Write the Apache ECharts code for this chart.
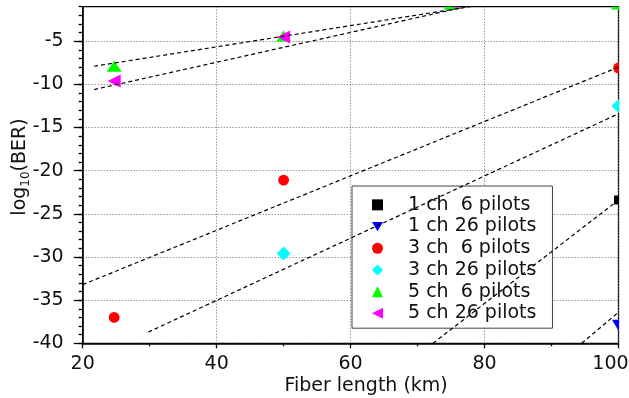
<!DOCTYPE html>
<html>
<head>
<meta charset="utf-8">
<script src="https://cdn.jsdelivr.net/npm/echarts@6/dist/echarts.min.js"></script>
<style>
  html, body { margin: 0; padding: 0; background: #fff; }
  #chart { width: 629px; height: 398px; }
</style>
</head>
<body>
<div id="chart"></div>
<script>
// Series labels (double space keeps the pilot counts aligned)
const seriesNames = ['1 ch  6 pilots', '1 ch 26 pilots', '3 ch  6 pilots',
                     '3 ch 26 pilots', '5 ch  6 pilots', '5 ch 26 pilots'];

// Measured log10(BER) versus fiber length [km, log10(BER)]
const ber1ch6  = [[100, -23.4]];
const ber1ch26 = [[100, -37.9]];
const ber3ch6  = [[24.7, -37.0], [50, -21.1], [100, -8.1]];
const ber3ch26 = [[50, -29.6], [100, -12.5]];
const ber5ch6  = [[24.7, -7.9], [50, -4.4], [75, -0.7], [100, -0.7]];
const ber5ch26 = [[24.7, -9.6], [50, -4.5], [75, -0.5], [100, -0.5]];

// Linear fit end points [km, log10(BER)]
const fit1ch6  = [[72.3, -40], [100, -23.4]];
const fit1ch26 = [[94.5, -40], [100, -36.4]];
const fit3ch6  = [[20, -33.2], [100, -8.0]];
const fit3ch26 = [[29.8, -38.7], [100, -13.4]];
const fit5ch6  = [[21.7, -7.9], [80, -0.73]];
const fit5ch26 = [[21.7, -10.6], [80, -0.52]];

// Axis ticks
const xTicks = [20, 40, 60, 80, 100];
const yTicks = [-40, -35, -30, -25, -20, -15, -10, -5];

const FONT = 'DejaVu Sans';
const TEXT = '#111';

// Marker shapes drawn around a pixel centre
const markerDraw = {
  square:  (x, y) => ({ type: 'rect', shape: { x: x - 4.5, y: y - 4.5, width: 9, height: 9 } }),
  down:    (x, y) => ({ type: 'polygon', shape: { points: [[x - 6.5, y - 5.5], [x + 6.5, y - 5.5], [x, y + 5.5]] } }),
  circle:  (x, y) => ({ type: 'circle', shape: { cx: x, cy: y, r: 5.4 } }),
  diamond: (x, y) => ({ type: 'polygon', shape: { points: [[x, y - 7], [x + 7, y], [x, y + 7], [x - 7, y]] } }),
  up:      (x, y) => ({ type: 'polygon', shape: { points: [[x - 7.5, y + 5.5], [x + 7.5, y + 5.5], [x, y - 5.5]] } }),
  left:    (x, y) => ({ type: 'polygon', shape: { points: [[x + 6.5, y - 6.5], [x + 6.5, y + 6.5], [x - 6.5, y]] } })
};

const legendIcons = [
  'rect',
  'path://M0,0L12,0L6,10Z',
  'circle',
  'diamond',
  'triangle',
  'path://M11,0L11,11L0,5.5Z'
];

function markerSeries(name, data, color, kind) {
  return {
    type: 'custom',
    name: name,
    data: data,
    clip: true,
    silent: true,
    z: 3,
    itemStyle: { color: color },
    encode: { x: 0, y: 1 },
    renderItem: function (params, api) {
      const p = api.coord([api.value(0), api.value(1)]);
      const el = markerDraw[kind](p[0], p[1]);
      el.style = { fill: color };
      return el;
    }
  };
}

function fitSeries(data) {
  return {
    type: 'line',
    data: data,
    symbol: 'none',
    clip: true,
    silent: true,
    z: 4,
    lineStyle: { color: '#000', width: 1.2, type: [4, 3] }
  };
}

const chart = echarts.init(document.getElementById('chart'), null, { renderer: 'canvas' });

chart.setOption({
  animation: false,
  backgroundColor: '#fff',
  textStyle: { fontFamily: FONT },
  grid: {
    left: 82.7, right: 10.5, top: 6.7, bottom: 54.7,
    outerBoundsMode: 'none',
    containLabel: false,
    show: true, borderColor: '#000', borderWidth: 1.3, backgroundColor: 'transparent'
  },
  xAxis: {
    type: 'value',
    min: 20, max: 100, interval: 20,
    name: 'Fiber length (km)',
    nameLocation: 'middle',
    nameGap: 32,
    nameMoveOverlap: false,
    nameTextStyle: { fontSize: 19, color: TEXT, fontFamily: FONT, lineHeight: 22, padding: [0, 0, 0, 31] },
    axisLine: { show: true, lineStyle: { color: '#000', width: 1.5 } },
    axisTick: { show: true, length: 5, lineStyle: { color: '#000', width: 1.3 } },
    minorTick: { show: true, splitNumber: 2, length: 3, lineStyle: { color: '#000', width: 1.3 } },
    axisLabel: {
      fontSize: 19, color: TEXT, fontFamily: FONT, margin: 11, lineHeight: 20,
      formatter: v => (v === 100 ? '{e|100}' : String(v)),
      rich: { e: { fontSize: 19, fontFamily: FONT, color: TEXT, padding: [0, 16, 0, 0] } }
    },
    splitLine: { show: true, lineStyle: { color: '#666', width: 1, type: [1, 2] } }
  },
  yAxis: [
    {
      type: 'value',
      min: -40, max: -1, interval: 5,
      position: 'left',
      name: 'log{s|10}(BER)',
      nameLocation: 'middle',
      nameGap: 51,
      nameMoveOverlap: false,
      nameTextStyle: {
        fontSize: 19, color: TEXT, fontFamily: FONT, lineHeight: 24, padding: [0, 0, 0, 16],
        rich: { s: { fontSize: 12, fontFamily: FONT, color: TEXT, lineHeight: 12, verticalAlign: 'bottom' } }
      },
      axisLine: { show: true, lineStyle: { color: '#000', width: 1.5 } },
      axisTick: { show: true, length: 9, customValues: yTicks, lineStyle: { color: '#000', width: 1.3 } },
      axisLabel: { fontSize: 19, color: TEXT, fontFamily: FONT, margin: 19, customValues: yTicks },
      splitLine: { show: true, lineStyle: { color: '#666', width: 1, type: [1, 2] } }
    },
    {
      // unit minor ticks
      type: 'value',
      min: -40, max: -1, interval: 1,
      position: 'left',
      axisLine: { show: false },
      axisTick: { show: true, length: 4, lineStyle: { color: '#000', width: 1.3 } },
      axisLabel: { show: false },
      splitLine: { show: false }
    }
  ],
  legend: {
    orient: 'vertical',
    left: 352, top: 186,
    padding: [8, 16, 4, 20],
    itemWidth: 11, itemHeight: 11, itemGap: 0,
    backgroundColor: '#fff',
    borderColor: '#444', borderWidth: 1,
    selectedMode: false,
    textStyle: { fontFamily: FONT, fontSize: 19, color: TEXT, lineHeight: 21.7, padding: [0, 0, 0, 20] },
    data: seriesNames.map((n, i) => ({ name: n, icon: legendIcons[i] }))
  },
  series: [
    markerSeries(seriesNames[0], ber1ch6,  '#000000', 'square'),
    markerSeries(seriesNames[1], ber1ch26, '#0000ff', 'down'),
    markerSeries(seriesNames[2], ber3ch6,  '#ff0000', 'circle'),
    markerSeries(seriesNames[3], ber3ch26, '#00ffff', 'diamond'),
    markerSeries(seriesNames[4], ber5ch6,  '#00ff00', 'up'),
    markerSeries(seriesNames[5], ber5ch26, '#ff00ff', 'left'),
    fitSeries(fit1ch6),
    fitSeries(fit1ch26),
    fitSeries(fit3ch6),
    fitSeries(fit3ch26),
    fitSeries(fit5ch6),
    fitSeries(fit5ch26)
  ]
});
</script>
</body>
</html>
